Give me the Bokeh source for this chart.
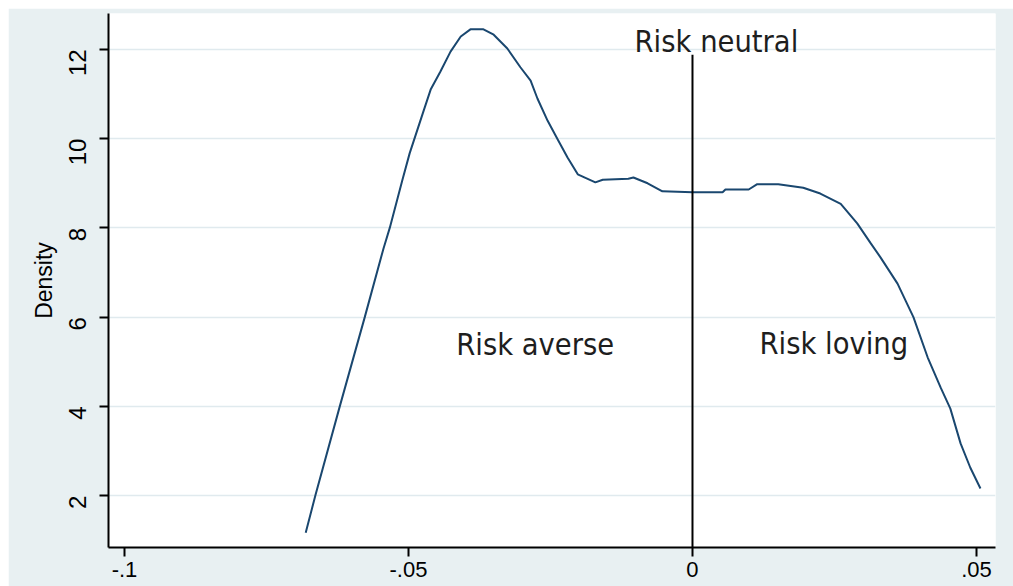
import math
from bokeh.plotting import figure
from bokeh.models import FixedTicker, Range1d, ColumnDataSource
from bokeh.core.properties import value
from bokeh.embed import file_html
from bokeh.resources import INLINE

# Kernel density of returns
returns = [-0.0681, -0.0664, -0.0621, -0.0577, -0.0544, -0.0533, -0.0511, -0.0498,
           -0.0474, -0.0461, -0.0444, -0.0426, -0.0408, -0.0391, -0.0368, -0.0350,
           -0.0326, -0.0303, -0.0285, -0.0273, -0.0255, -0.0238, -0.0220, -0.0202,
           -0.0171, -0.0158, -0.0113, -0.0104, -0.0079, -0.0053, 0.0000, 0.0053,
           0.0058, 0.0099, 0.0114, 0.0151, 0.0195, 0.0225, 0.0261, 0.0290,
           0.0313, 0.0331, 0.0361, 0.0389, 0.0414, 0.0437, 0.0454, 0.0472,
           0.0489, 0.0507]
density = [1.17, 2.00, 4.00, 6.00, 7.54, 8.00, 9.06, 9.67,
           10.60, 11.10, 11.50, 11.95, 12.29, 12.45, 12.45, 12.33,
           12.02, 11.60, 11.30, 10.90, 10.40, 10.00, 9.58, 9.20,
           9.02, 9.08, 9.10, 9.13, 9.00, 8.82, 8.80, 8.80,
           8.86, 8.86, 8.98, 8.98, 8.90, 8.77, 8.54, 8.10,
           7.67, 7.34, 6.75, 6.00, 5.10, 4.42, 3.95, 3.17,
           2.63, 2.16]

x_ticks = [-0.1, -0.05, 0.0, 0.05]
x_tick_labels = ["-.1", "-.05", "0", ".05"]
y_ticks = [2, 4, 6, 8, 10, 12]
y_label = "Density"

region_labels = ["Risk averse", "Risk neutral", "Risk loving"]
region_label_x = [-0.0416, -0.0102, 0.0118]
region_label_y = [5.38, 12.18, 5.41]

neutral_x = [0.0]
neutral_y0 = [0.837]
neutral_y1 = [11.88]

BG = "#e8f0f2"

p = figure(width=1005, height=578, output_backend="svg", toolbar_location=None,
           x_range=Range1d(-0.10282, 0.05335), y_range=Range1d(0.837, 12.805),
           min_border_left=100, min_border_right=18, min_border_top=5,
           min_border_bottom=39)
p.margin = (8, 0, 0, 8)
p.border_fill_color = BG
p.background_fill_color = "white"
p.outline_line_color = None

p.xgrid.grid_line_color = None
p.ygrid.grid_line_color = "#e0eaee"
p.ygrid.grid_line_width = 1.5
p.ygrid.ticker = FixedTicker(ticks=y_ticks)

p.xaxis.ticker = FixedTicker(ticks=x_ticks)
p.xaxis.major_label_overrides = {t: s for t, s in zip(x_ticks, x_tick_labels)}
p.yaxis.ticker = FixedTicker(ticks=y_ticks)

for ax in (p.xaxis, p.yaxis):
    ax.axis_line_color = "black"
    ax.axis_line_width = 2
    ax.major_tick_line_color = "black"
    ax.major_tick_line_width = 2
    ax.major_tick_in = 0
    ax.major_tick_out = 9
    ax.minor_tick_line_color = None
    ax.major_label_text_font = "Liberation Sans"
    ax.major_label_text_color = "black"

p.xaxis.major_label_text_font_size = "22px"
p.yaxis.major_label_text_font_size = "24px"
p.xaxis.major_label_standoff = 5
p.yaxis.major_label_standoff = 22
p.yaxis.major_label_orientation = math.pi / 2

p.yaxis.axis_label = y_label
p.yaxis.axis_label_text_font = "Liberation Sans"
p.yaxis.axis_label_text_font_size = "23px"
p.yaxis.axis_label_text_font_style = "normal"
p.yaxis.axis_label_text_color = "black"
p.yaxis.axis_label_standoff = 1

p.line(returns, density, line_color="#1a476f", line_width=2)
p.segment(x0=neutral_x, y0=neutral_y0, x1=neutral_x, y1=neutral_y1,
          line_color="black", line_width=2)

src = ColumnDataSource(dict(x=region_label_x, y=region_label_y, t=region_labels))
p.text(x="x", y="y", text="t", source=src, text_font=value("DejaVu Sans Condensed"),
       text_font_size="30.5px", text_color="#1e1e1e", text_align="left",
       text_baseline="alphabetic")

open("out.html", "w").write(file_html(p, INLINE))
